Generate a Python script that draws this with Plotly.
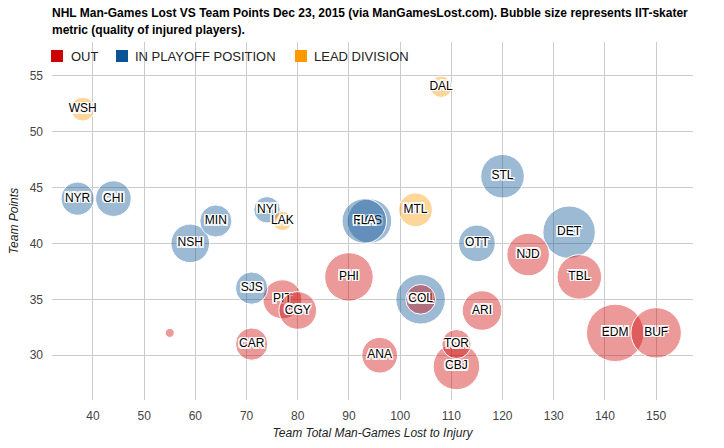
import plotly.graph_objects as go

# ---- data ----
teams = ["EDM", "PHI", "DET", "BUF", "VAN", "CBJ", "BOS", "FLA", "TBL", "STL",
         "NJD", "ARI", "PIT", "NSH", "CGY", "OTT", "CHI", "ANA", "MTL", "NYR",
         "SJS", "CAR", "MIN", "COL", "TOR", "NYI", "WSH", "DAL", "LAK", "WPG"]
labels = ["EDM", "PHI", "DET", "BUF", "VAN", "CBJ", "BOS", "FLA", "TBL", "STL",
          "NJD", "ARI", "PIT", "NSH", "CGY", "OTT", "CHI", "ANA", "MTL", "NYR",
          "SJS", "CAR", "MIN", "COL", "TOR", "NYI", "WSH", "DAL", "LAK", ""]
man_games_lost = [142, 90, 133, 150, 104, 111, 94, 93, 135, 120,
                  125, 116, 77, 59, 80, 115, 44, 96, 103, 37,
                  71, 71, 64, 104, 111, 74, 38, 108, 77, 55]
team_points = [32, 37, 41, 32, 35, 29, 42, 42, 37, 46,
               39, 34, 35, 40, 34, 40, 44, 30, 43, 44,
               36, 31, 42, 35, 31, 43, 52, 54, 42, 32]
status = ["OUT", "OUT", "IN PLAYOFF POSITION", "OUT", "IN PLAYOFF POSITION", "OUT",
          "IN PLAYOFF POSITION", "IN PLAYOFF POSITION", "OUT", "IN PLAYOFF POSITION",
          "OUT", "OUT", "OUT", "IN PLAYOFF POSITION", "OUT", "IN PLAYOFF POSITION",
          "IN PLAYOFF POSITION", "OUT", "LEAD DIVISION", "IN PLAYOFF POSITION",
          "IN PLAYOFF POSITION", "OUT", "IN PLAYOFF POSITION", "OUT", "OUT",
          "IN PLAYOFF POSITION", "LEAD DIVISION", "LEAD DIVISION", "LEAD DIVISION", "OUT"]
iit_skater = [25, 20.5, 22.5, 21.5, 21, 19.5, 18.5, 18.5, 18.5, 18,
              17.5, 16, 15.7, 15.5, 15, 14.5, 14, 14, 13, 12.7,
              12.3, 12.3, 12.2, 11, 10.7, 9.3, 8, 6.8, 5.7, 0.5]

categories = ["OUT", "IN PLAYOFF POSITION", "LEAD DIVISION"]
colors = {"OUT": (204, 0, 0), "IN PLAYOFF POSITION": (11, 83, 148), "LEAD DIVISION": (255, 153, 0)}

x_ticks = list(range(40, 151, 10))
y_ticks = list(range(30, 56, 5))

title_lines = ["NHL Man-Games Lost VS Team Points Dec 23, 2015 (via ManGamesLost.com). Bubble size represents IIT-skater",
               "metric (quality of injured players)."]

# ---- size scale (radius in px) ----
R_MIN, R_MAX = 4.5, 28.7
vmin, vmax = min(iit_skater), max(iit_skater)
def diam(v):
    return 2 * (R_MIN + (v - vmin) / (vmax - vmin) * (R_MAX - R_MIN))

FONT = "Liberation Sans, Arial, sans-serif"
halo = ("-1.5px -1.5px 0 #fff, 1.5px -1.5px 0 #fff, -1.5px 1.5px 0 #fff, 1.5px 1.5px 0 #fff, "
        "0 -1.5px 0 #fff, 0 1.5px 0 #fff, -1.5px 0 0 #fff, 1.5px 0 0 #fff")

fig = go.Figure()
order = sorted(range(len(teams)), key=lambda i: -iit_skater[i])
for i in order:
    r, g, b = colors[status[i]]
    fig.add_trace(go.Scatter(
        x=[man_games_lost[i]], y=[team_points[i]],
        mode="markers+text", text=[labels[i]], textposition="middle center",
        textfont=dict(family=FONT, size=12, color="#000", shadow=halo),
        marker=dict(size=diam(iit_skater[i]), sizemode="diameter",
                    color=f"rgba({r},{g},{b},0.4)", line=dict(color="#fff", width=1)),
        showlegend=False, hoverinfo="text", hovertext=[teams[i]],
        cliponaxis=False,
    ))

# ---- legend drawn as squares + text ----
W, H = 724, 448
ML, MR, MT, MB = 52, 31, 42, 48
pw, ph = W - ML - MR, H - MT - MB
def px_x(p):
    return (p - ML) / pw
def px_y(p):
    return (H - MB - p) / ph

legend_sq_x = [51, 116, 295]
legend_txt_x = [69, 133, 312]
ly = 56
shapes = []
annotations = []
for cat, sx, tx in zip(categories, legend_sq_x, legend_txt_x):
    r, g, b = colors[cat]
    shapes.append(dict(type="rect", xref="paper", yref="paper",
                       x0=px_x(sx), x1=px_x(sx + 12), y0=px_y(ly - 6), y1=px_y(ly + 6),
                       fillcolor=f"rgb({r},{g},{b})", line=dict(width=0), layer="above"))
    annotations.append(dict(xref="paper", yref="paper", x=px_x(tx), y=px_y(ly),
                            xanchor="left", yanchor="middle", showarrow=False,
                            text=cat, font=dict(family=FONT, size=13, color="#222")))

for k, line in enumerate(title_lines):
    annotations.append(dict(xref="paper", yref="paper", x=px_x(50), y=px_y(13 + 17 * k),
                            xanchor="left", yanchor="middle", showarrow=False,
                            text=f"<b>{line}</b>", font=dict(family=FONT, size=12, color="#000")))

fig.update_layout(
    width=W, height=H,
    margin=dict(l=ML, r=MR, t=MT, b=MB, autoexpand=False),
    paper_bgcolor="#fff", plot_bgcolor="#fff",
    font=dict(family=FONT, color="#444"),
    xaxis=dict(range=[32, 157.2], tickvals=x_ticks, showgrid=True, gridcolor="#ccc",
               zeroline=False, showline=False, ticks="", ticklabelstandoff=7,
               automargin=False,
               tickfont=dict(size=12, color="#444"),
               title=dict(text="Team Total Man-Games Lost to Injury", standoff=6,
                          font=dict(size=12, color="#222", style="italic"))),
    yaxis=dict(range=[26, 58], tickvals=y_ticks, showgrid=True, gridcolor="#ccc",
               zeroline=False, showline=False, ticks="", ticklabelstandoff=8,
               automargin=False,
               tickfont=dict(size=12, color="#444"),
               title=dict(text="Team Points", standoff=8,
                          font=dict(size=12, color="#222", style="italic"))),
    shapes=shapes, annotations=annotations,
)

fig.write_html("out.html")
